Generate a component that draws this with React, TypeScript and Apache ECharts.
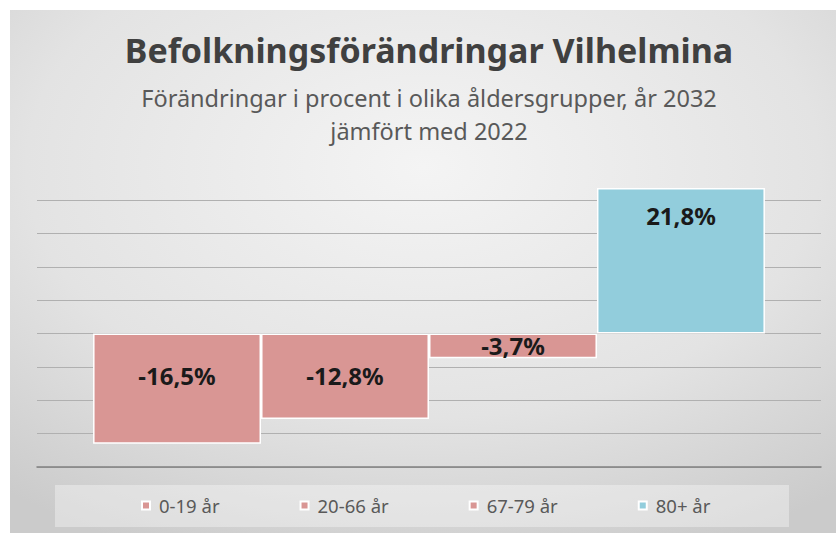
import React, { useEffect, useRef } from 'react';
import * as echarts from 'echarts';

const categories = ['0-19 år', '20-66 år', '67-79 år', '80+ år'];
const values = [-16.5, -12.8, -3.7, 21.8];
const barColors = ['#D99694', '#D99694', '#D99694', '#92CDDC'];
const yMin = -20;
const yMax = 20;
const yInterval = 5;
const titleText = 'Befolkningsförändringar Vilhelmina';
const subtitleText = 'Förändringar i procent i olika åldersgrupper, år 2032\njämfört med 2022';

const FONT = '"Noto Sans", "Open Sans", sans-serif';

export default function App() {
  const ref = useRef<HTMLDivElement>(null);
  useEffect(() => {
    document.body.style.margin = '0';
    if (!ref.current) return;
    const chart = echarts.init(ref.current, undefined, { renderer: 'svg' });
    const labelPos = ['insideTop', 'insideTop', 'inside', 'insideTop'];
    const labelDist = [29, 29, 0, 15];
    chart.setOption({
      animation: false,
      backgroundColor: '#ffffff',
      title: {
        text: titleText,
        subtext: subtitleText,
        left: 429,
        top: 31,
        textAlign: 'center',
        padding: 0,
        itemGap: 12,
        textStyle: { fontFamily: FONT, fontSize: 34, fontWeight: 'bold', color: '#404040', lineHeight: 38 },
        subtextStyle: { fontFamily: FONT, fontSize: 23.5, color: '#595959', lineHeight: 33 },
      },
      graphic: [
        {
          type: 'rect',
          z: -10,
          silent: true,
          shape: { x: 10, y: 10, width: 826, height: 523 },
          style: {
            fill: {
              type: 'radial', x: 0.5, y: 0.3, r: 0.8,
              colorStops: [
                { offset: 0, color: '#f4f4f4' },
                { offset: 0.6, color: '#e3e3e3' },
                { offset: 1, color: '#cbcbcb' },
              ],
            },
          },
        },
        {
          type: 'rect',
          z: -9,
          silent: true,
          shape: { x: 55, y: 485, width: 734, height: 42 },
          style: { fill: 'rgba(255,255,255,0.35)' },
        },
      ],
      legend: {
        data: categories,
        left: 141,
        top: 496,
        padding: 0,
        icon: 'rect',
        itemWidth: 8,
        itemHeight: 8,
        itemGap: 80,
        textStyle: { fontFamily: FONT, fontSize: 18.5, color: '#595959', padding: [0, 0, 0, 4] },
      },
      grid: { left: 37, right: 15, top: 200, bottom: 66, containLabel: false },
      xAxis: {
        type: 'category',
        data: [''],
        axisLine: { show: true, onZero: false, lineStyle: { color: '#808080', width: 1.5 } },
        axisTick: { show: false },
        axisLabel: { show: false },
      },
      yAxis: {
        type: 'value',
        min: yMin,
        max: yMax,
        interval: yInterval,
        axisLabel: { show: false },
        axisLine: { show: false },
        axisTick: { show: false },
        splitLine: { lineStyle: { color: '#b0b0b0', width: 1.2 } },
      },
      series: categories.map((name, i) => ({
        type: 'bar',
        name,
        data: [values[i]],
        barGap: '0%',
        barCategoryGap: '14.3%',
        clip: false,
        itemStyle: { color: barColors[i], borderColor: '#ffffff', borderWidth: 1.5 },
        label: {
          show: true,
          position: labelPos[i],
          distance: labelDist[i],
          fontFamily: FONT,
          fontSize: 24,
          lineHeight: 26,
          fontWeight: 'bold',
          color: '#1a1a1a',
          formatter: (p: any) => p.value.toFixed(1).replace('.', ',') + '%',
        },
      })),
    });
    return () => chart.dispose();
  }, []);
  return <div ref={ref} style={{ width: 836, height: 533 }} />;
}
